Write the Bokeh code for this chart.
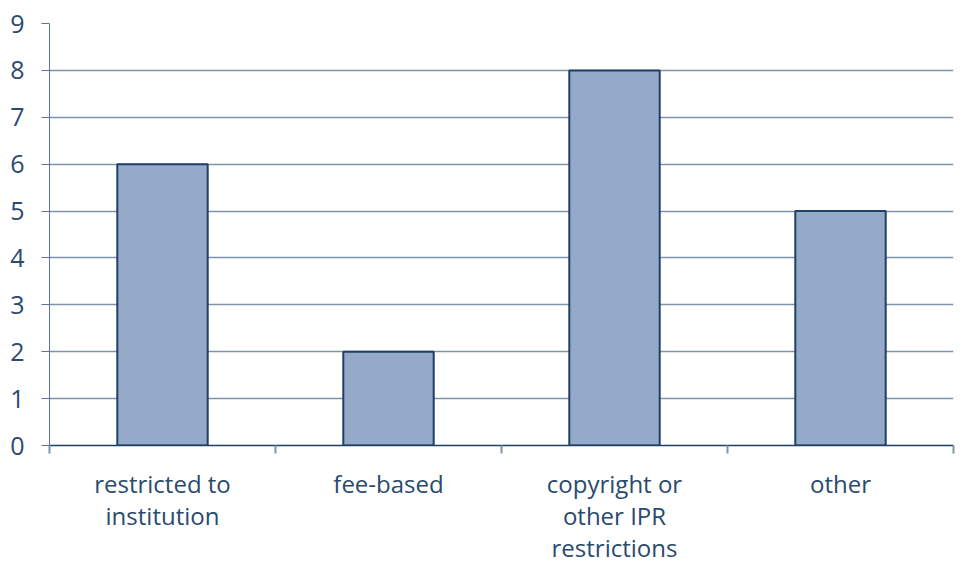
from bokeh.plotting import figure
from bokeh.models import FixedTicker, LinearAxis, Range1d
from bokeh.embed import file_html
from bokeh.resources import INLINE

categories = ["restricted to\ninstitution", "fee-based", "copyright or\nother IPR\nrestrictions", "other"]
values = [6, 2, 8, 5]
y_ticks = [0, 1, 2, 3, 4, 5, 6, 7, 8, 9]

TEXT = "#2a4a6e"
FONT = "Open Sans"

n = len(categories)
centers = [i + 0.5 for i in range(n)]

p = figure(frame_width=904, frame_height=422, output_backend="svg", toolbar_location=None,
           x_range=Range1d(0, n), y_range=Range1d(0, 9),
           x_axis_type=None, min_border_left=49, min_border_top=23,
           min_border_right=2, min_border_bottom=0)
p.outline_line_color = None
p.xgrid.visible = False

p.vbar(x=centers, top=values, width=0.4, bottom=0,
       fill_color="#95a9c9", line_color="#1f3f66", line_width=2)

# y axis
p.yaxis.ticker = FixedTicker(ticks=y_ticks)
p.yaxis.axis_line_color = "#5d7592"
p.yaxis.major_tick_line_color = "#5d7592"
p.yaxis.major_tick_out = 8
p.yaxis.major_tick_in = 0
p.yaxis.minor_tick_line_color = None
p.yaxis.major_label_standoff = 17
p.yaxis.major_label_text_font = FONT
p.yaxis.major_label_text_font_size = "25px"
p.yaxis.major_label_text_color = TEXT
p.ygrid.ticker = FixedTicker(ticks=y_ticks)
p.ygrid.grid_line_color = "#7f93aa"
p.ygrid.grid_line_width = 1.5

# x axis with boundary ticks
ax_ticks = LinearAxis(ticker=FixedTicker(ticks=list(range(n + 1))),
                      major_label_overrides={i: "" for i in range(n + 1)})
ax_ticks.axis_line_color = "#1f3f66"
ax_ticks.axis_line_width = 1.5
ax_ticks.major_tick_line_color = "#7f93aa"
ax_ticks.major_tick_line_width = 2
ax_ticks.major_tick_out = 8
ax_ticks.major_tick_in = 0
ax_ticks.minor_tick_line_color = None
ax_ticks.major_label_text_font_size = "1px"
ax_ticks.major_label_standoff = 0
p.add_layout(ax_ticks, "below")

# x axis with category labels
ax_lab = LinearAxis(ticker=FixedTicker(ticks=centers),
                    major_label_overrides={c: lab for c, lab in zip(centers, categories)})
ax_lab.axis_line_color = None
ax_lab.major_tick_line_color = None
ax_lab.minor_tick_line_color = None
ax_lab.major_tick_out = 0
ax_lab.major_tick_in = 0
ax_lab.major_label_standoff = 13
ax_lab.major_label_text_font = FONT
ax_lab.major_label_text_font_size = "24px"
ax_lab.major_label_text_color = TEXT
ax_lab.major_label_text_line_height = 0.97
p.add_layout(ax_lab, "below")

open("out.html", "w").write(file_html(p, INLINE))
